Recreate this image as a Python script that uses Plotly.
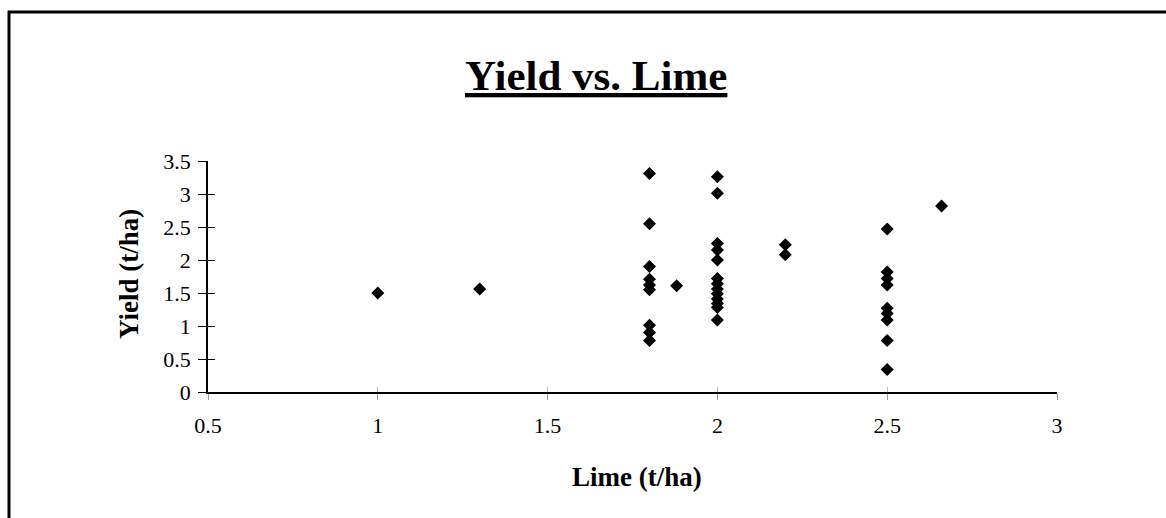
import plotly.graph_objects as go

lime = [1.0, 1.3,
        1.8, 1.8, 1.8, 1.8, 1.8, 1.8, 1.8, 1.8, 1.8,
        1.88,
        2.0, 2.0, 2.0, 2.0, 2.0, 2.0, 2.0, 2.0, 2.0, 2.0, 2.0, 2.0, 2.0,
        2.2, 2.2,
        2.5, 2.5, 2.5, 2.5, 2.5, 2.5, 2.5, 2.5, 2.5,
        2.66]
yld = [1.50, 1.56,
       3.31, 2.55, 1.90, 1.71, 1.62, 1.55, 1.01, 0.90, 0.78,
       1.61,
       3.26, 3.01, 2.25, 2.15, 2.00, 1.72, 1.64, 1.56, 1.49, 1.41, 1.34, 1.28, 1.09,
       2.23, 2.08,
       2.47, 1.82, 1.72, 1.62, 1.27, 1.19, 1.09, 0.78, 0.34,
       2.82]

x_ticks = [0.5, 1, 1.5, 2, 2.5, 3]
y_ticks = [0, 0.5, 1, 1.5, 2, 2.5, 3, 3.5]

W, H = 1166, 518
L, R, T, B = 208, 1057, 161, 392

def px(x):
    return (x - L) / (R - L)

def py(y):
    return (B - y) / (B - T)

FONT = "Liberation Serif"

fig = go.Figure()
fig.add_trace(go.Scatter(
    x=lime, y=yld, mode="markers",
    marker=dict(symbol="diamond", size=10, color="black", line=dict(width=0)),
    showlegend=False, hoverinfo="x+y"))
fig.add_trace(go.Scatter(x=[None], y=[None], yaxis="y2", xaxis="x2",
                         showlegend=False, hoverinfo="skip"))

fig.update_layout(
    width=W, height=H,
    margin=dict(l=L, r=W - R, t=T, b=H - B),
    paper_bgcolor="white", plot_bgcolor="white",
    font=dict(family=FONT, color="black"),
    xaxis=dict(range=[0.5, 3], tickvals=x_ticks, ticktext=[str(v) for v in x_ticks],
               showgrid=False, zeroline=False, showline=True, linecolor="black",
               linewidth=1.5, ticks="outside", ticklen=6, tickcolor="#999",
               tickfont=dict(family=FONT, size=22), ticklabelstandoff=7),
    yaxis=dict(range=[0, 3.5], tickvals=y_ticks, ticktext=[str(v) for v in y_ticks],
               showgrid=False, zeroline=False, showline=True, linecolor="black",
               linewidth=1.5, ticks="outside", ticklen=8, tickcolor="black",
               tickfont=dict(family=FONT, size=22), ticklabelstandoff=3),
    xaxis2=dict(range=[0.5, 3], overlaying="x", anchor="y", tickvals=x_ticks,
                showticklabels=False, showgrid=False, zeroline=False, showline=False,
                ticks="inside", ticklen=5, tickcolor="#bbb", side="bottom"),
    yaxis2=dict(range=[0, 3.5], overlaying="y", anchor="x", tickvals=y_ticks,
                showticklabels=False, showgrid=False, zeroline=False, showline=False,
                ticks="inside", ticklen=7, tickcolor="black", side="left"),
    shapes=[dict(type="rect", xref="paper", yref="paper",
                 x0=px(9), x1=px(1180), y0=py(540), y1=py(12),
                 line=dict(color="black", width=3), layer="below")],
    annotations=[
        dict(text="<b><u>Yield vs. Lime</u></b>", xref="paper", yref="paper",
             x=px(596), y=py(76), xanchor="center", yanchor="middle",
             showarrow=False, font=dict(family=FONT, size=43, color="black")),
        dict(text="<b>Lime (t/ha)</b>", xref="paper", yref="paper",
             x=px(637), y=py(477), xanchor="center", yanchor="middle",
             showarrow=False, font=dict(family=FONT, size=27, color="black")),
        dict(text="<b>Yield (t/ha)</b>", xref="paper", yref="paper",
             x=px(129), y=py(274), xanchor="center", yanchor="middle",
             textangle=-90, showarrow=False,
             font=dict(family=FONT, size=27, color="black")),
    ],
)

fig.write_html("out.html")
